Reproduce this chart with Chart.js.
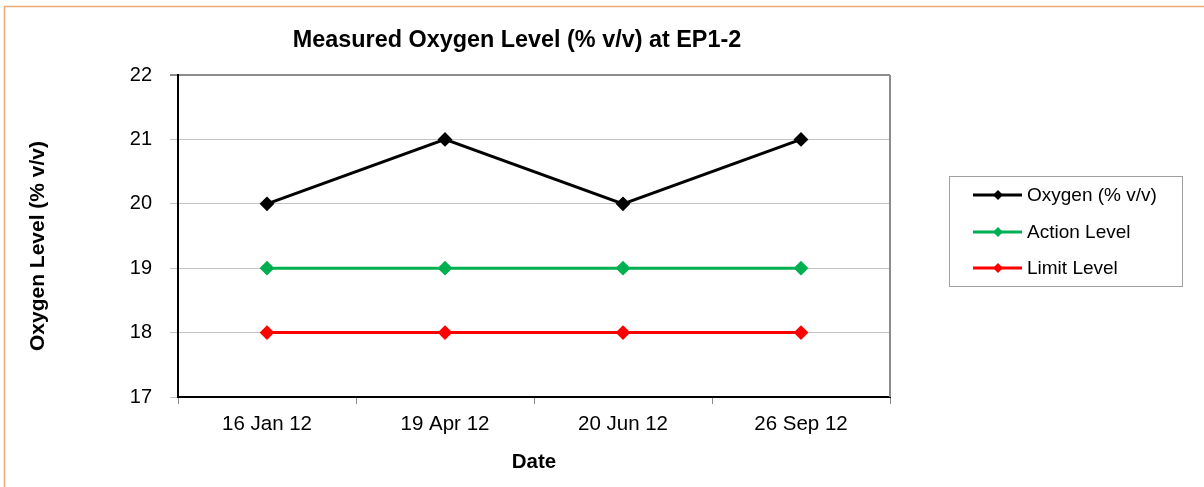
<!DOCTYPE html>
<html>
<head>
<meta charset="utf-8">
<script src="https://cdn.jsdelivr.net/npm/chart.js@4.4.0/dist/chart.umd.min.js"></script>
<style>
  html, body { margin: 0; padding: 0; background: #fff; }
  #wrap { width: 1204px; height: 487px; }
</style>
</head>
<body>
<div id="wrap"><canvas id="oxygenChart" width="1204" height="487"></canvas></div>
<script>
// data
let dates = ["16 Jan 12", "19 Apr 12", "20 Jun 12", "26 Sep 12"];
let oxygenData = [20, 21, 20, 21];
let actionData = [19, 19, 19, 19];
let limitData = [18, 18, 18, 18];
let yMin = 17;
let yMax = 22;

let chartTitle = "Measured Oxygen Level (% v/v) at EP1-2";
let yTitle = "Oxygen Level (% v/v)";
let font = "'Liberation Sans', Arial, sans-serif";

// title, y title, legend box, outer frame and plot border
let extras = {
    id: "extras",
    afterDraw(chart) {
        let ctx = chart.ctx;
        let area = chart.chartArea;
        ctx.save();

        // outer orange frame
        ctx.strokeStyle = "#E9A979";
        ctx.lineWidth = 1.5;
        ctx.strokeRect(4.5, 6.5, 1400, 700);

        // right side of plot area
        ctx.strokeStyle = "#8c8c8c";
        ctx.lineWidth = 2;
        ctx.beginPath();
        ctx.moveTo(area.right, area.top);
        ctx.lineTo(area.right, area.bottom);
        ctx.stroke();

        // title
        ctx.fillStyle = "#000";
        ctx.font = "bold 23.4px " + font;
        ctx.textAlign = "center";
        ctx.textBaseline = "middle";
        ctx.fillText(chartTitle, 517, 41);

        // y axis title
        ctx.save();
        ctx.translate(38, 246);
        ctx.rotate(-Math.PI / 2);
        ctx.font = "bold 21px " + font;
        ctx.fillText(yTitle, 0, 0);
        ctx.restore();

        // legend
        ctx.strokeStyle = "#a0a0a0";
        ctx.lineWidth = 1;
        ctx.strokeRect(949.5, 176.5, 233, 110);
        ctx.font = "19px " + font;
        ctx.textAlign = "left";
        let rowY = [195, 232, 268];
        chart.data.datasets.forEach(function (ds, i) {
            let y = rowY[i];
            ctx.strokeStyle = ds.borderColor;
            ctx.lineWidth = 3;
            ctx.beginPath();
            ctx.moveTo(973, y);
            ctx.lineTo(1022, y);
            ctx.stroke();
            ctx.fillStyle = ds.borderColor;
            ctx.beginPath();
            ctx.moveTo(998 - 5, y);
            ctx.lineTo(998, y - 5);
            ctx.lineTo(998 + 5, y);
            ctx.lineTo(998, y + 5);
            ctx.closePath();
            ctx.fill();
            ctx.fillStyle = "#000";
            ctx.fillText(ds.label, 1027, y + 1);
        });
        ctx.restore();
    }
};

function makeSet(label, data, color) {
    return {
        label: label,
        data: data,
        borderColor: color,
        backgroundColor: color,
        borderWidth: 3,
        pointStyle: "rectRot",
        pointRadius: 6,
        pointBorderWidth: 2,
        pointBackgroundColor: color,
        pointBorderColor: color,
        tension: 0
    };
}

let ctx1 = document.getElementById("oxygenChart").getContext("2d");
let myChart = new Chart(ctx1, {
    type: "line",
    data: {
        labels: dates,
        datasets: [
            makeSet("Oxygen (% v/v)", oxygenData, "#000000"),
            makeSet("Action Level", actionData, "#00B050"),
            makeSet("Limit Level", limitData, "#FF0000")
        ]
    },
    options: {
        responsive: false,
        animation: false,
        layout: { padding: { left: 0, top: 75, right: 314, bottom: 0 } },
        plugins: {
            legend: { display: false },
            title: { display: false },
            tooltip: { enabled: false }
        },
        scales: {
            x: {
                offset: true,
                afterFit: function (s) { s.height = 90; },
                grid: {
                    offset: true,
                    drawOnChartArea: false,
                    drawTicks: true,
                    tickLength: 7,
                    color: "#8c8c8c"
                },
                border: { display: true, color: "#000", width: 2 },
                ticks: {
                    color: "#000",
                    font: { family: font, size: 20.5 },
                    padding: 8,
                    maxRotation: 0,
                    autoSkip: false
                },
                title: {
                    display: true,
                    text: "Date",
                    color: "#000",
                    font: { family: font, size: 20.5, weight: "bold" },
                    padding: { top: 0, bottom: 12 }
                }
            },
            y: {
                min: yMin,
                max: yMax,
                afterFit: function (s) { s.width = 178; },
                grid: {
                    tickLength: 8,
                    color: function (c) {
                        return c.tick && c.tick.value === yMax ? "#8c8c8c" : "#c4c4c4";
                    },
                    lineWidth: function (c) {
                        return c.tick && c.tick.value === yMax ? 2 : 1;
                    }
                },
                border: { display: true, color: "#000", width: 2 },
                ticks: {
                    stepSize: 1,
                    color: "#000",
                    font: { family: font, size: 20 },
                    padding: 18
                },
                title: { display: false }
            }
        }
    },
    plugins: [extras]
});
</script>
</body>
</html>
